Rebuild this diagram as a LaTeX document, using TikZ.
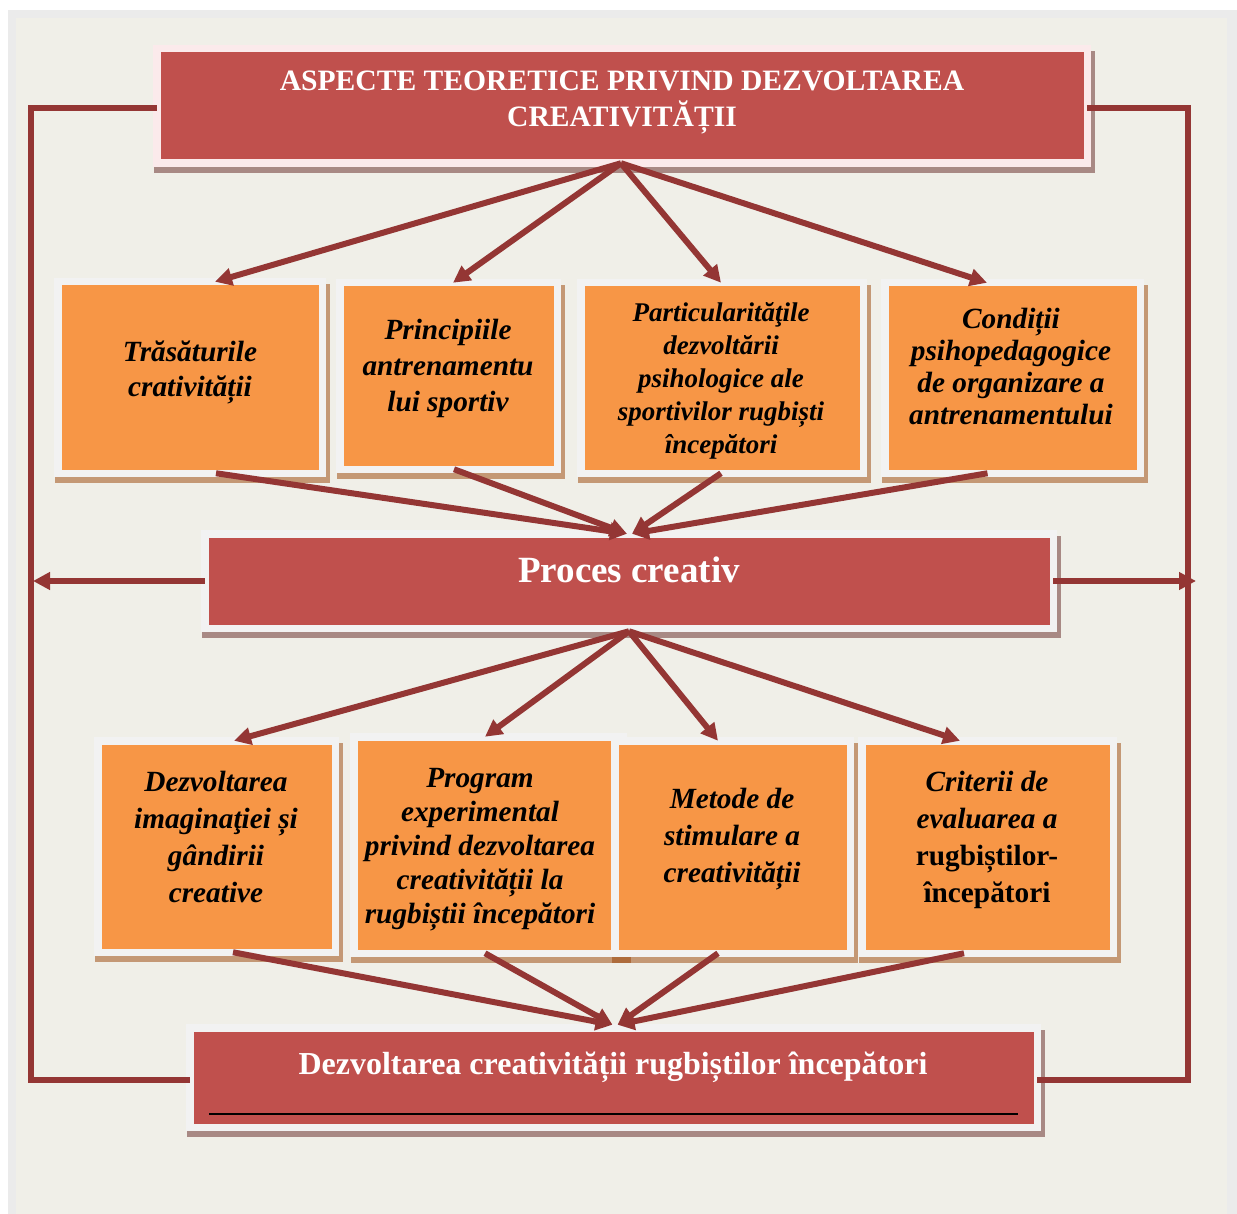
\documentclass[tikz,border=0pt]{standalone}
\usepackage{fontspec}
\setmainfont{Liberation Serif}
\usetikzlibrary{arrows.meta,calc}

\definecolor{pagebg}{HTML}{F0EFE8}
\definecolor{bandgray}{HTML}{EBEBEB}
\definecolor{headred}{HTML}{C0504D}
\definecolor{cellorange}{HTML}{F79646}
\definecolor{linkred}{HTML}{943634}
\definecolor{framegray}{HTML}{F2F2F2}
\definecolor{framepink}{HTML}{FBEAEB}
\definecolor{redshade}{RGB}{98,37,34}
\definecolor{orangeshade}{RGB}{153,66,4}

% framed panel: name, left, top, right, bottom (outer frame edges), fill, frame, shadow
\newcommand\mkpanel[8]{%
  \fill[#8, opacity=0.5] (#2+1,#3+6) rectangle (#4+3.5,#5+6);
  \node[panel, fill=#6, draw=#7, anchor=north west,
        minimum width={(#4-#2-7.5)*1pt}, minimum height={(#5-#3-7.5)*1pt}]
        (#1) at (#2+3.75,#3+3.75) {};
}

\begin{document}
\begin{tikzpicture}[x=1pt,y=-1pt,
  panel/.style={rectangle, inner sep=0pt, outer sep=0pt, line width=7.5pt},
  conn/.style={draw=linkred, line width=6pt, -{Triangle[length=17pt,width=17pt]}},
  rail/.style={draw=linkred, line width=6pt},
  headtext/.style={text=white, align=center, font=\bfseries\fontsize{29.6}{36}\selectfont},
  cell/.style={align=center, text=black, font=\bfseries\itshape\fontsize{29.3}{#1}\selectfont},
  cell/.default=36
]
\useasboundingbox (0,0) rectangle (1237,1214);
\fill[white] (0,0) rectangle (1237,1214);
\fill[bandgray] (8,10) rectangle (1237,1214);
\fill[pagebg] (16,18) rectangle (1227,1214);

% panels
\mkpanel{top}{153}{45}{1091}{167}{headred}{framepink}{redshade}
\mkpanel{t1}{54}{278}{326}{477}{cellorange}{framegray}{orangeshade}
\mkpanel{t2}{336}{279}{561}{473}{cellorange}{framegray}{orangeshade}
\mkpanel{t3}{577}{279}{867}{477}{cellorange}{framegray}{orangeshade}
\mkpanel{t4}{881}{279}{1144}{477}{cellorange}{framegray}{orangeshade}
\mkpanel{proc}{201}{530}{1057}{632}{headred}{framegray}{redshade}
\mkpanel{b1}{94}{737}{339}{956}{cellorange}{framegray}{orangeshade}
\mkpanel{b2}{350}{733}{627}{957}{cellorange}{framegray}{orangeshade}
\mkpanel{b3}{611}{737}{854}{957}{cellorange}{framegray}{orangeshade}
\mkpanel{b4}{858}{737}{1117}{957}{cellorange}{framegray}{orangeshade}
\mkpanel{bot}{186}{1024}{1041}{1131}{headred}{framegray}{redshade}
\draw[black, line width=1.3pt] (209,1114) -- (1018,1114);

% texts
\node[headtext] (toptxt) at (622,102.5) {ASPECTE TEORETICE PRIVIND DEZVOLTAREA\\CREATIVITĂȚII};
\node[text=white, font=\bfseries\fontsize{37}{44}\selectfont, anchor=base] (proctxt) at (629,582) {Proces creativ};
\node[text=white, font=\bfseries\fontsize{32}{38}\selectfont, anchor=base] (bottxt) at (613,1074) {Dezvoltarea creativității rugbiștilor începători};

\node[cell=35] (t1txt) at (190,372) {Trăsăturile\\crativității};
\node[cell=36] (t2txt) at (448,368) {Principiile\\antrenamentu\\lui sportiv};
\node[align=center, font=\bfseries\itshape\fontsize{27}{33}\selectfont] (t3txt) at (721,381)
  {Particularităţile\\dezvoltării\\psihologice ale\\sportivilor rugbiști\\începători};
\node[cell=32] (t4txt) at (1011,367) {Condiții\\psihopedagogice\\de organizare a\\antrenamentului};
\node[cell=37] (b1txt) at (216,836.5) {Dezvoltarea\\imaginaţiei și\\gândirii\\creative};
\node[cell=34] (b2txt) at (480,850) {Program\\experimental\\privind dezvoltarea\\creativității la\\rugbiștii începători};
\node[cell=37] (b3txt) at (732,839.5) {Metode de\\stimulare a\\creativității};
\node[cell=37] (b4txt) at (987,839.5) {Criterii de\\evaluarea a\\{\upshape rugbiștilor-}\\{\upshape începători}};

% hubs and rails
\coordinate (hubA) at ([xshift=-1pt]top.south);
\coordinate (hubB) at ([yshift=-3pt]proc.south);
\coordinate (railL) at (31,581);
\coordinate (railR) at (1188,581);
\coordinate (tipL) at (33,581);
\coordinate (tipR) at (1196,581);

\draw[rail] ([yshift=-2pt]top.west) -| (railL) |- ([yshift=-2.5pt]bot.west);
\draw[rail] ([yshift=-2pt]top.east) -| (railR) |- ([yshift=-2.5pt]bot.east);
\draw[conn] (proc.west) -- (tipL);
\draw[conn] (proc.east) -- (tipR);

% top level fan-out
\draw[conn] (hubA) -- ([xshift=25pt]t1.north);
\draw[conn] (hubA) -- ([xshift=4.5pt]t2.north);
\draw[conn] (hubA) -- ([xshift=-1pt]t3.north);
\draw[conn] (hubA) -- ([xshift=-25.5pt]t4.north);

% into the creative process
\draw[conn] ([xshift=26pt]t1.south) -- ([xshift=-2pt]proc.north);
\draw[conn] ([xshift=5.5pt]t2.south) -- ([xshift=-2pt]proc.north);
\draw[conn] ([xshift=-1pt]t3.south) -- ([xshift=3pt]proc.north);
\draw[conn] ([xshift=-25pt]t4.south) -- ([xshift=3pt]proc.north);

% second fan-out
\draw[conn] (hubB) -- ([xshift=17.5pt]b1.north);
\draw[conn] (hubB) -- ([xshift=-3.5pt]b2.north);
\draw[conn] (hubB) -- ([xshift=-14.5pt]b3.north);
\draw[conn] (hubB) -- ([xshift=-27.5pt]b4.north);

% into the outcome
\draw[conn] ([xshift=16.5pt]b1.south) -- ([xshift=-1pt,yshift=3pt]bot.north);
\draw[conn] ([xshift=-3.5pt]b2.south) -- ([xshift=-1pt,yshift=3pt]bot.north);
\draw[conn] ([xshift=-14.5pt]b3.south) -- ([xshift=4pt,yshift=3pt]bot.north);
\draw[conn] ([xshift=-23.5pt]b4.south) -- ([xshift=4pt,yshift=3pt]bot.north);
\end{tikzpicture}
\end{document}
